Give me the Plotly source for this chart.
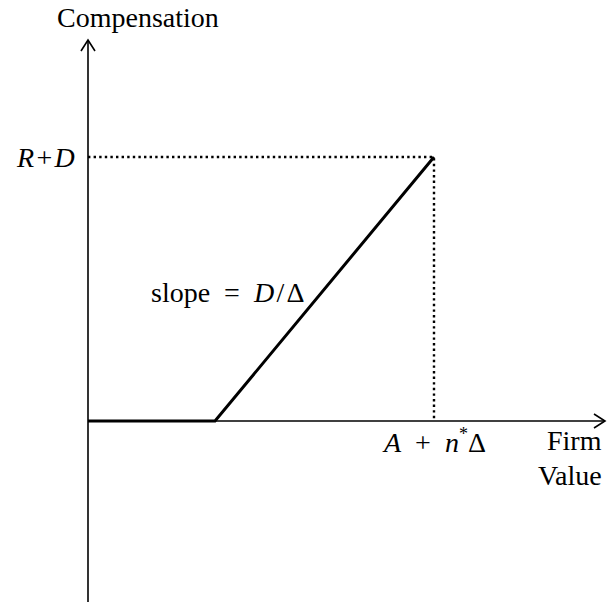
import plotly.graph_objects as go

# Conceptual data (units: 1 unit = 100 px in this rendering)
payoff_x = [0.0, 1.27, 3.46]        # firm value: origin, kink (A), A + n*Delta
payoff_y = [0.0, 0.0, 2.64]         # compensation: 0, 0, R+D
x_axis_end = 5.17
y_axis_top = 3.81
y_axis_bottom = -1.81
top_x = payoff_x[2]
top_y = payoff_y[2]

fig = go.Figure()

black = "black"
# axes
fig.add_trace(go.Scatter(x=[0, x_axis_end], y=[0, 0], mode="lines",
                         line=dict(color=black, width=1.6), hoverinfo="skip"))
fig.add_trace(go.Scatter(x=[0, 0], y=[y_axis_bottom, y_axis_top], mode="lines",
                         line=dict(color=black, width=1.6), hoverinfo="skip"))
# arrow tips (open)
fig.add_trace(go.Scatter(x=[x_axis_end - 0.11, x_axis_end, x_axis_end - 0.11],
                         y=[0.07, 0, -0.07], mode="lines",
                         line=dict(color=black, width=1.6), hoverinfo="skip"))
fig.add_trace(go.Scatter(x=[-0.07, 0, 0.07],
                         y=[y_axis_top - 0.11, y_axis_top, y_axis_top - 0.11], mode="lines",
                         line=dict(color=black, width=1.6), hoverinfo="skip"))
# dotted guides
fig.add_trace(go.Scatter(x=[0, top_x, top_x], y=[top_y, top_y, 0], mode="lines",
                         line=dict(color=black, width=2.4, dash="2.4px,3.2px"), hoverinfo="skip"))
# payoff
fig.add_trace(go.Scatter(x=payoff_x, y=payoff_y, mode="lines",
                         line=dict(color=black, width=3), hoverinfo="skip"))

font = dict(family="Liberation Serif, DejaVu Serif, serif", size=28, color=black)
hair = "\u200a"
en = "\u2002"
ann = [
    dict(x=0.50, y=4.04, text="Compensation", xanchor="center", yanchor="middle"),
    dict(x=-0.11, y=top_y, text=f"<i>R</i>{hair}+{hair}<i>D</i>", xanchor="right", yanchor="middle"),
    dict(x=1.40, y=1.29, text=f"slope{en}={en}<i>D</i>{hair}/{hair}Δ", xanchor="center", yanchor="middle"),
    dict(x=3.46, y=-0.20,
         text=f"<i>A</i>{en}+{en}<i>n</i><sup><span style='font-size:18px'>*</span></sup>Δ",
         xanchor="center", yanchor="middle"),
    dict(x=5.16, y=-0.19, text="Firm", xanchor="right", yanchor="middle"),
    dict(x=5.16, y=-0.54, text="Value", xanchor="right", yanchor="middle"),
]
for a in ann:
    a.update(showarrow=False, font=font, xref="x", yref="y")

fig.update_layout(
    width=615, height=602,
    margin=dict(l=0, r=0, t=0, b=0),
    paper_bgcolor="white", plot_bgcolor="white",
    showlegend=False,
    annotations=ann,
    xaxis=dict(range=[-0.88, 5.27], visible=False, fixedrange=True),
    yaxis=dict(range=[-1.81, 4.21], visible=False, fixedrange=True),
)
fig.write_html("out.html",
               post_script="document.body.style.margin='0';document.body.style.overflow='hidden';",
               config={"displayModeBar": False})
